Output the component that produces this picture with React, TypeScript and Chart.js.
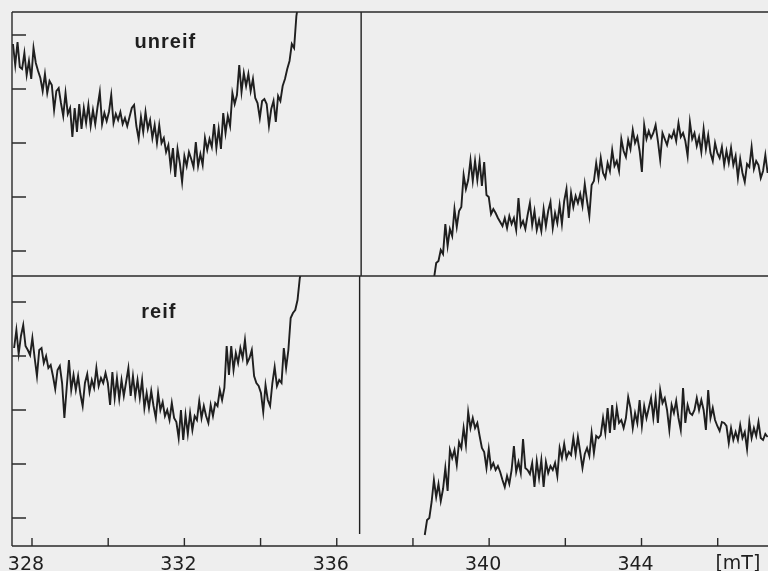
import React, { useEffect, useRef } from "react";
import { Chart, registerables } from "chart.js";

Chart.register(...registerables);

// Magnetic field axis [mT]
const FIELD_STEP = 0.06;
const TICK_STEP_MT = 2;
const FIELD_MIN = 327.475;
const FIELD_MAX = 347.32;

// Scan start field of each trace
const UNREIF_LOW_START = 327.5;
const UNREIF_HIGH_START = 338.55;
const REIF_LOW_START = 327.53;
const REIF_HIGH_START = 338.31;

// Signal amplitude (arbitrary units)
const unreifLow = [
  207,186,209,184,182,198,176,190,172,203,
  188,180,173,160,177,158,170,166,141,160,
  163,148,135,158,137,143,114,143,119,147,
  122,143,128,146,125,141,127,144,159,127,
  138,130,139,156,128,137,131,139,127,133,
  125,134,143,146,125,112,134,119,139,122,
  131,113,126,108,126,108,113,99,106,84,
  103,74,102,88,69,95,85,99,92,84,
  109,85,97,86,113,101,112,104,127,103,
  122,102,138,118,135,125,158,147,156,186,
  159,178,165,177,160,172,153,148,133,150,
  152,147,125,142,150,129,155,150,165,172,
  182,190,207,203,235,250,
];

const unreifHigh = [
  -28,-12,-10,1,-3,27,5,22,15,42,
  24,40,44,76,62,71,91,70,90,71,
  90,65,89,56,54,37,42,38,33,29,
  25,33,23,35,27,33,21,53,25,30,
  22,36,48,26,40,21,31,20,42,25,
  40,49,23,38,28,46,27,50,62,33,
  58,44,55,48,57,45,67,50,35,66,
  70,88,73,93,78,73,88,80,101,85,
  90,80,112,100,94,111,102,121,108,114,
  100,79,126,112,120,113,118,126,110,91,
  118,112,106,116,113,120,110,128,114,118,
  110,95,129,112,118,105,114,99,122,102,
  116,98,90,108,98,93,104,86,100,88,
  103,86,95,73,92,78,69,87,84,104,
  82,90,86,73,80,96,78,
];

const reifLow = [
  170,188,164,182,193,172,168,163,180,160,
  142,168,170,155,162,150,153,142,129,148,
  152,135,100,130,158,128,143,128,142,124,
  112,135,144,126,138,130,150,132,140,135,
  145,135,113,146,120,140,119,138,122,136,
  150,122,142,122,138,120,138,110,125,110,
  127,112,100,125,108,116,102,108,98,115,
  100,96,80,108,78,103,84,105,88,102,
  98,117,100,112,102,95,113,102,115,112,
  128,118,130,172,143,172,148,165,155,170,
  160,178,155,160,168,142,135,132,125,106,
  133,118,112,135,151,132,138,135,170,150,
  168,200,205,208,218,240,250,
];

const reifHigh = [
  -17,-2,0,16,38,21,34,17,29,50,
  27,68,60,68,53,76,70,90,73,106,
  90,100,90,95,82,70,66,50,69,50,
  55,48,52,46,38,31,42,34,48,72,
  46,56,45,79,50,48,44,55,31,57,
  40,58,31,56,45,52,48,55,42,70,
  60,74,60,66,63,80,64,81,66,50,
  64,70,62,85,65,82,80,83,100,85,
  110,85,113,88,110,95,98,90,100,121,
  110,90,105,95,118,92,112,100,110,120,
  100,120,95,128,115,120,108,88,113,105,
  117,100,88,130,95,113,105,103,108,120,
  108,118,108,88,128,100,110,98,92,87,
  96,95,92,75,90,78,86,78,93,80,
  86,69,96,80,90,82,96,80,78,84,81,
];

// Axis ranges of the two stacked panels
const UNREIF_RANGE = [-25, 239];
const REIF_RANGE = [-28, 242];
const AMPLITUDE_TICKS = [0, 54, 108, 162, 216];

// Field of the vertical separator in each panel
const UNREIF_SEPARATOR = 336.64;
const REIF_SEPARATOR = 336.6;
const REIF_SEPARATOR_END = -16;

const INK = "#1f1f1f";
const PAPER = "#eeeeee";

const toPoints = (start: number, values: number[]) =>
  values.map((y, i) => ({ x: start + i * FIELD_STEP, y }));

const trace = (data: { x: number; y: number }[], yAxisID: string, borderWidth = 1.9) => ({
  data,
  yAxisID,
  borderColor: INK,
  borderWidth,
  pointRadius: 0,
  tension: 0,
  borderJoinStyle: "miter" as const,
});

const setAmplitudeTicks = (s: any) => {
  s.ticks = AMPLITUDE_TICKS.map((value) => ({ value }));
};

const framePlugin = {
  id: "frame",
  afterDatasetsDraw(chart: any) {
    const { ctx, chartArea: a, scales } = chart;
    const xS = scales.x;
    const yTop = scales.yUnreif;
    const yBot = scales.yReif;
    ctx.save();
    ctx.strokeStyle = "#2a2a2a";
    ctx.lineWidth = 1.4;
    ctx.beginPath();
    // frame: top, middle, bottom, left
    ctx.moveTo(a.left, yTop.top); ctx.lineTo(a.right, yTop.top);
    ctx.moveTo(a.left, yBot.top); ctx.lineTo(a.right, yBot.top);
    ctx.moveTo(a.left, yBot.bottom); ctx.lineTo(a.right, yBot.bottom);
    ctx.moveTo(a.left, yTop.top); ctx.lineTo(a.left, yBot.bottom);
    // inward ticks from the library's scales
    [yTop, yBot].forEach((s: any) => {
      s.ticks.forEach((t: any) => {
        const p = s.getPixelForValue(t.value);
        ctx.moveTo(a.left, p); ctx.lineTo(a.left + 14, p);
      });
    });
    xS.ticks.forEach((_: any, i: number) => {
      const p = xS.getPixelForTick(i);
      ctx.moveTo(p, yBot.bottom); ctx.lineTo(p, yBot.bottom - 8);
    });
    ctx.stroke();
    // captions
    ctx.fillStyle = INK;
    ctx.textAlign = "center";
    ctx.textBaseline = "alphabetic";
    ctx.font = 'bold 20px "Liberation Sans"';
    (ctx as any).letterSpacing = "1px";
    ctx.fillText("unreif", xS.getPixelForValue(331.5), yTop.top + 36);
    ctx.fillText("reif", xS.getPixelForValue(331.33), yBot.top + 42);
    (ctx as any).letterSpacing = "0px";
    ctx.font = '19px "DejaVu Sans"';
    ctx.fillText("[mT]", xS.getPixelForValue(346.53), yBot.bottom + 23);
    ctx.restore();
  },
};

export default function App() {
  const ref = useRef<HTMLCanvasElement>(null);
  useEffect(() => {
    document.body.style.margin = "0";
    document.body.style.background = PAPER;
    const chart = new Chart(ref.current!, {
      type: "line",
      data: {
        datasets: [
          trace(toPoints(UNREIF_LOW_START, unreifLow), "yUnreif"),
          trace(toPoints(UNREIF_HIGH_START, unreifHigh), "yUnreif"),
          trace(toPoints(REIF_LOW_START, reifLow), "yReif"),
          trace(toPoints(REIF_HIGH_START, reifHigh), "yReif"),
          trace([{ x: UNREIF_SEPARATOR, y: UNREIF_RANGE[0] }, { x: UNREIF_SEPARATOR, y: UNREIF_RANGE[1] }], "yUnreif", 1.4),
          trace([{ x: REIF_SEPARATOR, y: REIF_SEPARATOR_END }, { x: REIF_SEPARATOR, y: REIF_RANGE[1] }], "yReif", 1.4),
        ],
      },
      options: {
        responsive: false,
        animation: false,
        layout: { padding: { top: 12, right: 0, bottom: 0, left: 0 } },
        plugins: { legend: { display: false }, tooltip: { enabled: false } },
        scales: {
          x: {
            type: "linear",
            min: FIELD_MIN,
            max: FIELD_MAX,
            grid: { display: false },
            border: { display: false },
            ticks: {
              stepSize: TICK_STEP_MT,
              includeBounds: false,
              maxRotation: 0,
              autoSkip: false,
              padding: 0,
              labelOffset: -6,
              color: INK,
              font: { family: "DejaVu Sans", size: 19 },
              callback: (v: any) => (Number(v) % 4 === 0 ? String(v) : ""),
            },
            afterFit: (s: any) => { s.height = 25; },
          },
          yReif: {
            type: "linear",
            position: "left",
            stack: "panels",
            stackWeight: REIF_RANGE[1] - REIF_RANGE[0],
            min: REIF_RANGE[0],
            max: REIF_RANGE[1],
            grid: { display: false },
            border: { display: false },
            ticks: { display: false },
            afterBuildTicks: setAmplitudeTicks,
            afterFit: (s: any) => { s.width = 12; },
          },
          yUnreif: {
            type: "linear",
            position: "left",
            stack: "panels",
            stackWeight: UNREIF_RANGE[1] - UNREIF_RANGE[0],
            min: UNREIF_RANGE[0],
            max: UNREIF_RANGE[1],
            grid: { display: false },
            border: { display: false },
            ticks: { display: false },
            afterBuildTicks: setAmplitudeTicks,
            afterFit: (s: any) => { s.width = 12; },
          },
        },
      } as any,
      plugins: [framePlugin],
    });
    return () => chart.destroy();
  }, []);
  return (
    <div style={{ width: 768, height: 571, overflow: "hidden" }}>
      <canvas ref={ref} width={768} height={571} style={{ display: "block" }} />
    </div>
  );
}
